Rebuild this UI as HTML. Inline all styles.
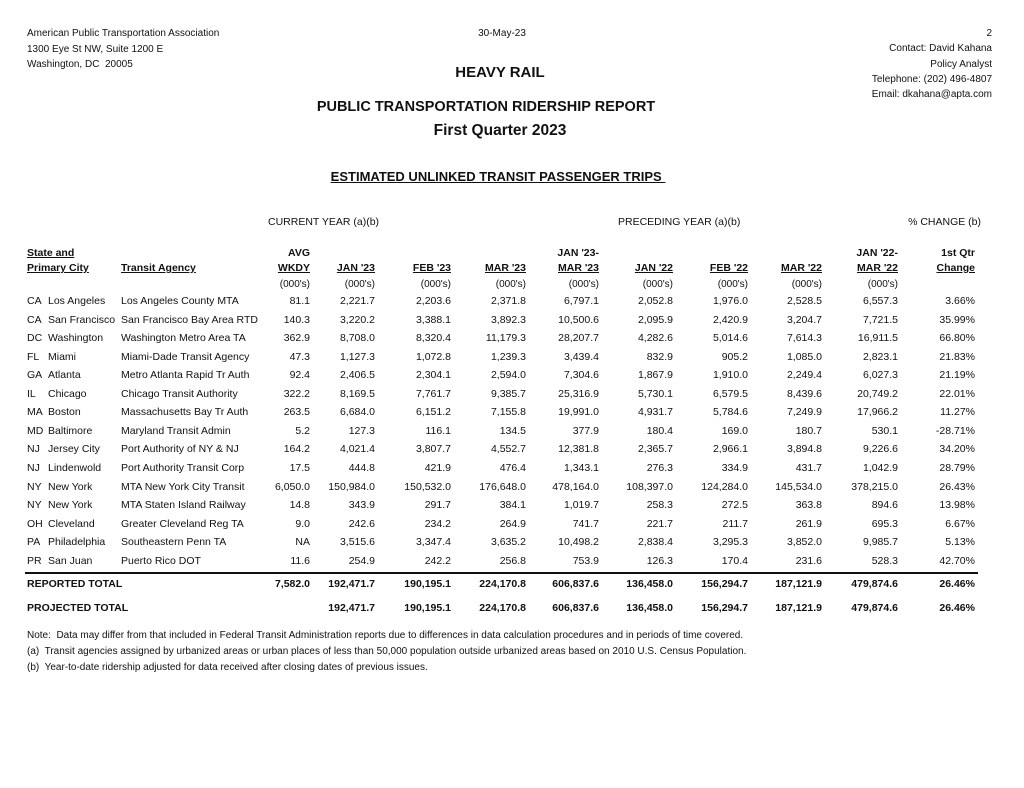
<!DOCTYPE html>
<html><head><meta charset="utf-8"><style>
body{margin:0;width:1024px;height:788px;background:#fff;position:relative;font-family:"Liberation Sans",Arial,sans-serif;color:#111;overflow:hidden}
.t{position:absolute;font-size:10px;line-height:12px;white-space:nowrap}
.r{position:absolute;left:0;width:1024px;height:12px;font-size:10.5px;line-height:12px;white-space:nowrap}
.r span{position:absolute;top:0}
.a{left:27px}.b{left:48px}.g{left:121px}
.n{text-align:right;width:90px}
.c1{left:220px}.c2{left:285px}.c3{left:361px}.c4{left:436px}.c5{left:509px}.c6{left:583px}.c7{left:658px}.c8{left:732px}.c9{left:808px}.c10{left:885px}
.bold{font-weight:bold}
.u{text-decoration:underline}
</style></head><body>
<div class="t" style="left:27px;top:28px">American Public Transportation Association</div>
<div class="t" style="left:27px;top:44px">1300 Eye St NW, Suite 1200 E</div>
<div class="t" style="left:27px;top:59px">Washington, DC&nbsp; 20005</div>
<div class="t" style="left:452px;width:100px;text-align:center;top:28px">30-May-23</div>
<div class="t" style="left:892px;width:100px;text-align:right;top:28px">2</div>
<div class="t" style="left:792px;width:200px;text-align:right;top:43px">Contact: David Kahana</div>
<div class="t" style="left:792px;width:200px;text-align:right;top:59px">Policy Analyst</div>
<div class="t" style="left:792px;width:200px;text-align:right;top:74px">Telephone: (202) 496-4807</div>
<div class="t" style="left:792px;width:200px;text-align:right;top:89px">Email: dkahana@apta.com</div>
<div class="t bold" style="left:350px;width:300px;text-align:center;top:64px;font-size:15px;line-height:17px">HEAVY RAIL</div>
<div class="t bold" style="left:236px;width:500px;text-align:center;top:99px;font-size:14.5px;line-height:17px">PUBLIC TRANSPORTATION RIDERSHIP REPORT</div>
<div class="t bold" style="left:250px;width:500px;text-align:center;top:122px;font-size:15.5px;line-height:18px">First Quarter 2023</div>
<div class="t bold u" style="left:298px;width:400px;text-align:center;top:169px;font-size:13px;line-height:15px">ESTIMATED UNLINKED TRANSIT PASSENGER TRIPS&nbsp;</div>

<div class="r" style="top:216px"><span style="left:268px">CURRENT YEAR (a)(b)</span><span style="left:618px">PRECEDING YEAR (a)(b)</span><span style="left:881px;width:100px;text-align:right">% CHANGE (b)</span></div>

<div class="r bold" style="top:247px"><span class="a u">State and</span><span class="n c1">AVG</span><span class="n c5">JAN '23-</span><span class="n c9">JAN '22-</span><span class="n c10">1st Qtr</span></div>
<div class="r bold" style="top:262px"><span class="a u">Primary City</span><span class="g u">Transit Agency</span><span class="n c1"><u>WKDY</u></span><span class="n c2"><u>JAN '23</u></span><span class="n c3"><u>FEB '23</u></span><span class="n c4"><u>MAR '23</u></span><span class="n c5"><u>MAR '23</u></span><span class="n c6"><u>JAN '22</u></span><span class="n c7"><u>FEB '22</u></span><span class="n c8"><u>MAR '22</u></span><span class="n c9"><u>MAR '22</u></span><span class="n c10"><u>Change</u></span></div>
<div class="r" style="top:279px;font-size:10px"><span class="n c1">(000's)</span><span class="n c2">(000's)</span><span class="n c3">(000's)</span><span class="n c4">(000's)</span><span class="n c5">(000's)</span><span class="n c6">(000's)</span><span class="n c7">(000's)</span><span class="n c8">(000's)</span><span class="n c9">(000's)</span></div>

<div class="r" style="top:295px"><span class="a">CA</span><span class="b">Los Angeles</span><span class="g">Los Angeles County MTA</span><span class="n c1">81.1</span><span class="n c2">2,221.7</span><span class="n c3">2,203.6</span><span class="n c4">2,371.8</span><span class="n c5">6,797.1</span><span class="n c6">2,052.8</span><span class="n c7">1,976.0</span><span class="n c8">2,528.5</span><span class="n c9">6,557.3</span><span class="n c10">3.66%</span></div>
<div class="r" style="top:314px"><span class="a">CA</span><span class="b">San Francisco</span><span class="g">San Francisco Bay Area RTD</span><span class="n c1">140.3</span><span class="n c2">3,220.2</span><span class="n c3">3,388.1</span><span class="n c4">3,892.3</span><span class="n c5">10,500.6</span><span class="n c6">2,095.9</span><span class="n c7">2,420.9</span><span class="n c8">3,204.7</span><span class="n c9">7,721.5</span><span class="n c10">35.99%</span></div>
<div class="r" style="top:332px"><span class="a">DC</span><span class="b">Washington</span><span class="g">Washington Metro Area TA</span><span class="n c1">362.9</span><span class="n c2">8,708.0</span><span class="n c3">8,320.4</span><span class="n c4">11,179.3</span><span class="n c5">28,207.7</span><span class="n c6">4,282.6</span><span class="n c7">5,014.6</span><span class="n c8">7,614.3</span><span class="n c9">16,911.5</span><span class="n c10">66.80%</span></div>
<div class="r" style="top:351px"><span class="a">FL</span><span class="b">Miami</span><span class="g">Miami-Dade Transit Agency</span><span class="n c1">47.3</span><span class="n c2">1,127.3</span><span class="n c3">1,072.8</span><span class="n c4">1,239.3</span><span class="n c5">3,439.4</span><span class="n c6">832.9</span><span class="n c7">905.2</span><span class="n c8">1,085.0</span><span class="n c9">2,823.1</span><span class="n c10">21.83%</span></div>
<div class="r" style="top:369px"><span class="a">GA</span><span class="b">Atlanta</span><span class="g">Metro Atlanta Rapid Tr Auth</span><span class="n c1">92.4</span><span class="n c2">2,406.5</span><span class="n c3">2,304.1</span><span class="n c4">2,594.0</span><span class="n c5">7,304.6</span><span class="n c6">1,867.9</span><span class="n c7">1,910.0</span><span class="n c8">2,249.4</span><span class="n c9">6,027.3</span><span class="n c10">21.19%</span></div>
<div class="r" style="top:388px"><span class="a">IL</span><span class="b">Chicago</span><span class="g">Chicago Transit Authority</span><span class="n c1">322.2</span><span class="n c2">8,169.5</span><span class="n c3">7,761.7</span><span class="n c4">9,385.7</span><span class="n c5">25,316.9</span><span class="n c6">5,730.1</span><span class="n c7">6,579.5</span><span class="n c8">8,439.6</span><span class="n c9">20,749.2</span><span class="n c10">22.01%</span></div>
<div class="r" style="top:406px"><span class="a">MA</span><span class="b">Boston</span><span class="g">Massachusetts Bay Tr Auth</span><span class="n c1">263.5</span><span class="n c2">6,684.0</span><span class="n c3">6,151.2</span><span class="n c4">7,155.8</span><span class="n c5">19,991.0</span><span class="n c6">4,931.7</span><span class="n c7">5,784.6</span><span class="n c8">7,249.9</span><span class="n c9">17,966.2</span><span class="n c10">11.27%</span></div>
<div class="r" style="top:425px"><span class="a">MD</span><span class="b">Baltimore</span><span class="g">Maryland Transit Admin</span><span class="n c1">5.2</span><span class="n c2">127.3</span><span class="n c3">116.1</span><span class="n c4">134.5</span><span class="n c5">377.9</span><span class="n c6">180.4</span><span class="n c7">169.0</span><span class="n c8">180.7</span><span class="n c9">530.1</span><span class="n c10">-28.71%</span></div>
<div class="r" style="top:443px"><span class="a">NJ</span><span class="b">Jersey City</span><span class="g">Port Authority of NY &amp; NJ</span><span class="n c1">164.2</span><span class="n c2">4,021.4</span><span class="n c3">3,807.7</span><span class="n c4">4,552.7</span><span class="n c5">12,381.8</span><span class="n c6">2,365.7</span><span class="n c7">2,966.1</span><span class="n c8">3,894.8</span><span class="n c9">9,226.6</span><span class="n c10">34.20%</span></div>
<div class="r" style="top:462px"><span class="a">NJ</span><span class="b">Lindenwold</span><span class="g">Port Authority Transit Corp</span><span class="n c1">17.5</span><span class="n c2">444.8</span><span class="n c3">421.9</span><span class="n c4">476.4</span><span class="n c5">1,343.1</span><span class="n c6">276.3</span><span class="n c7">334.9</span><span class="n c8">431.7</span><span class="n c9">1,042.9</span><span class="n c10">28.79%</span></div>
<div class="r" style="top:481px"><span class="a">NY</span><span class="b">New York</span><span class="g">MTA New York City Transit</span><span class="n c1">6,050.0</span><span class="n c2">150,984.0</span><span class="n c3">150,532.0</span><span class="n c4">176,648.0</span><span class="n c5">478,164.0</span><span class="n c6">108,397.0</span><span class="n c7">124,284.0</span><span class="n c8">145,534.0</span><span class="n c9">378,215.0</span><span class="n c10">26.43%</span></div>
<div class="r" style="top:499px"><span class="a">NY</span><span class="b">New York</span><span class="g">MTA Staten Island Railway</span><span class="n c1">14.8</span><span class="n c2">343.9</span><span class="n c3">291.7</span><span class="n c4">384.1</span><span class="n c5">1,019.7</span><span class="n c6">258.3</span><span class="n c7">272.5</span><span class="n c8">363.8</span><span class="n c9">894.6</span><span class="n c10">13.98%</span></div>
<div class="r" style="top:518px"><span class="a">OH</span><span class="b">Cleveland</span><span class="g">Greater Cleveland Reg TA</span><span class="n c1">9.0</span><span class="n c2">242.6</span><span class="n c3">234.2</span><span class="n c4">264.9</span><span class="n c5">741.7</span><span class="n c6">221.7</span><span class="n c7">211.7</span><span class="n c8">261.9</span><span class="n c9">695.3</span><span class="n c10">6.67%</span></div>
<div class="r" style="top:536px"><span class="a">PA</span><span class="b">Philadelphia</span><span class="g">Southeastern Penn TA</span><span class="n c1">NA</span><span class="n c2">3,515.6</span><span class="n c3">3,347.4</span><span class="n c4">3,635.2</span><span class="n c5">10,498.2</span><span class="n c6">2,838.4</span><span class="n c7">3,295.3</span><span class="n c8">3,852.0</span><span class="n c9">9,985.7</span><span class="n c10">5.13%</span></div>
<div class="r" style="top:555px"><span class="a">PR</span><span class="b">San Juan</span><span class="g">Puerto Rico DOT</span><span class="n c1">11.6</span><span class="n c2">254.9</span><span class="n c3">242.2</span><span class="n c4">256.8</span><span class="n c5">753.9</span><span class="n c6">126.3</span><span class="n c7">170.4</span><span class="n c8">231.6</span><span class="n c9">528.3</span><span class="n c10">42.70%</span></div>
<div style="position:absolute;left:25px;top:572px;width:953px;height:1.5px;background:#111"></div>
<div class="r bold" style="top:578px"><span class="a">REPORTED TOTAL</span><span class="n c1">7,582.0</span><span class="n c2">192,471.7</span><span class="n c3">190,195.1</span><span class="n c4">224,170.8</span><span class="n c5">606,837.6</span><span class="n c6">136,458.0</span><span class="n c7">156,294.7</span><span class="n c8">187,121.9</span><span class="n c9">479,874.6</span><span class="n c10">26.46%</span></div>
<div class="r bold" style="top:602px"><span class="a">PROJECTED TOTAL</span><span class="n c2">192,471.7</span><span class="n c3">190,195.1</span><span class="n c4">224,170.8</span><span class="n c5">606,837.6</span><span class="n c6">136,458.0</span><span class="n c7">156,294.7</span><span class="n c8">187,121.9</span><span class="n c9">479,874.6</span><span class="n c10">26.46%</span></div>
<div class="t" style="left:27px;top:630px">Note:&nbsp; Data may differ from that included in Federal Transit Administration reports due to differences in data calculation procedures and in periods of time covered.</div>
<div class="t" style="left:27px;top:646px">(a)&nbsp; Transit agencies assigned by urbanized areas or urban places of less than 50,000 population outside urbanized areas based on 2010 U.S. Census Population.</div>
<div class="t" style="left:27px;top:662px">(b)&nbsp; Year-to-date ridership adjusted for data received after closing dates of previous issues.</div>
</body></html>
